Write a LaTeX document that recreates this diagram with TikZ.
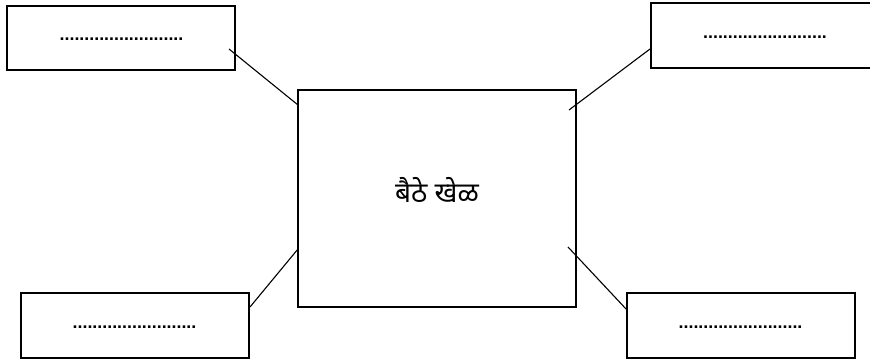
\documentclass[tikz,border=0pt]{standalone}
\usepackage{fontspec}
\setmainfont{Liberation Sans}
\newfontfamily\devfont[Script=Devanagari]{Noto Sans}
\begin{document}
\begin{tikzpicture}[x=1pt,y=-1pt,
  box/.style={draw=black,line width=2.6pt,inner sep=0pt},
  conn/.style={draw=black,line width=1.1pt},
  blank/.style={anchor=base,inner sep=0pt,font=\bfseries\fontsize{17.8}{20}\selectfont}]
\useasboundingbox (0,0) rectangle (870,361);
\begin{scope}
\clip (0,0) rectangle (870,361);
% boxes
\node[box,minimum width=228pt,minimum height=64pt] (tl) at (121,38) {};
\node[box,minimum width=228pt,minimum height=65pt] (tr) at (765,35.5) {};
\node[box,minimum width=228pt,minimum height=65pt] (bl) at (135,325.5) {};
\node[box,minimum width=228pt,minimum height=65pt] (br) at (741,325.5) {};
\node[box,minimum width=278pt,minimum height=217pt] (c) at (437,198.5) {};
\end{scope}
% texts
\node[blank] (tlt) at (121.5,40.5) {.........................};
\node[blank] (trt) at (765,38.5) {.........................};
\node[blank] (blt) at (134.5,328.5) {.........................};
\node[blank] (brt) at (740.5,328.5) {.........................};
\node[inner sep=0pt,font=\devfont\fontsize{28}{32}\selectfont] (title) at (437,190) {बैठे खेळ};
% connector end points
\coordinate (a1) at (229,49);
\coordinate (a2) at (298,105);
\coordinate (b1) at (650,49);
\coordinate (b2) at (569,110);
\coordinate (d1) at (250,307);
\coordinate (d2) at (298,249);
\coordinate (e1) at (568,247);
\coordinate (e2) at (627,310);
\draw[conn] (a1) -- (a2);
\draw[conn] (b1) -- (b2);
\draw[conn] (d1) -- (d2);
\draw[conn] (e1) -- (e2);
\end{tikzpicture}
\end{document}
